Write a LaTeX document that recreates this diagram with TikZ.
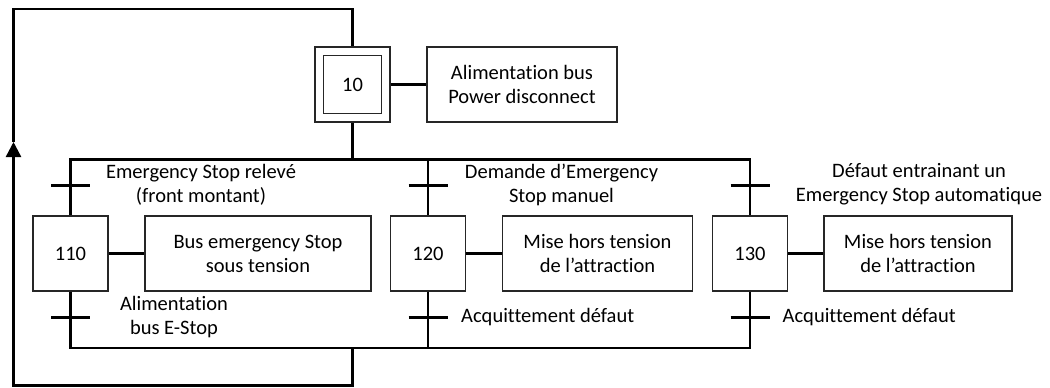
\documentclass[tikz,border=0pt]{standalone}
\usepackage{fontspec}
\setmainfont{Carlito}[Ligatures={NoCommon}]
\usetikzlibrary{arrows.meta}
\begin{document}
\begin{tikzpicture}[x=1pt,y=-1pt,
  txt/.style={font=\fontsize{20.5}{24}\selectfont},
  stepbox/.style={txt, draw=black!85, line width=1.3pt, minimum width=75pt, minimum height=75pt, inner sep=0pt},
  initin/.style={txt, draw=black!85, line width=1.3pt, minimum width=58pt, minimum height=58pt, inner sep=0pt},
  actbox/.style={txt, draw=black!85, line width=1.3pt, minimum height=75pt, inner sep=0pt, align=center},
  wire/.style={line width=2.4pt, black, line join=miter},
  link/.style={line width=3.2pt, black},
  tick/.style={line width=2.2pt, black},
  lbl/.style={txt, align=center, inner sep=0pt}
]
\useasboundingbox (0,0) rectangle (1050,388);

% steps and actions
\node[stepbox] (s10) at (352.5,84.5) {};
\node[initin] (s10i) at (s10) {10};
\node[actbox, minimum width=190pt] (a10) at (522,84.5) {Alimentation bus\\Power disconnect};

\node[stepbox] (s110) at (70.5,253.5) {110};
\node[actbox, minimum width=226pt] (a110) at (258,253.5) {Bus emergency Stop\\sous tension};
\node[stepbox] (s120) at (428,253.5) {120};
\node[actbox, minimum width=190pt] (a120) at (597.5,253.5) {Mise hors tension\\de l’attraction};
\node[stepbox] (s130) at (750,253.5) {130};
\node[actbox, minimum width=188pt] (a130) at (918,253.5) {Mise hors tension\\de l’attraction};

\draw[link] (s10.east) -- (a10.west);
\draw[link] (s110.east) -- (a110.west);
\draw[link] (s120.east) -- (a120.west);
\draw[link] (s130.east) -- (a130.west);

% coordinates
\coordinate (divL) at (70.5,159.5);
\coordinate (divM) at (428,159.5);
\coordinate (divR) at (750,159.5);
\coordinate (div10) at (352.5,159.5);
\coordinate (convL) at (70.5,348);
\coordinate (convM) at (428,348);
\coordinate (convR) at (750,348);
\coordinate (conv10) at (352.5,348);
\coordinate (bot) at (352.5,385.5);
\coordinate (botL) at (13.5,385.5);
\coordinate (arr) at (13.5,142);
\coordinate (topL) at (13.5,9);
\coordinate (top) at (352.5,9);

% wires
\draw[wire] (s10.south) -- (div10);
\draw[wire] (s110.north) -- (divL) -- (divR) -- (s130.north);
\draw[wire] (divM) -- (s120.north);
\draw[wire] (s110.south) -- (convL) -- (convR) -- (s130.south);
\draw[wire] (s120.south) -- (convM);
\draw[wire] (conv10) -- (bot) -- (botL) -- ([yshift=-10pt]arr);
\draw[wire, -{Triangle[length=15pt,width=15pt]}] (botL) -- (arr);
\draw[wire] (arr) -- (topL) -- (top) -- (s10.north);

% transitions
\foreach \n/\x/\y in {t1/70.5/185.5, t2/428/185.5, t3/750/185.5, t4/70.5/317.5, t5/428/317.5, t6/750/317.5}{
  \coordinate (\n) at (\x,\y);
  \draw[tick] ([xshift=-19.5pt]\n) -- ([xshift=19.5pt]\n);
}

% labels
\node[lbl] (l1) at (201,185) {Emergency Stop relevé\\(front montant)};
\node[lbl] (l2) at (561.5,185) {Demande d’Emergency\\Stop manuel};
\node[lbl] (l3) at (919,184) {Défaut entrainant un\\Emergency Stop automatique};
\node[lbl] (l4) at (174,317) {Alimentation\\bus E-Stop};
\node[lbl, anchor=west] (l5) at (461,317.5) {Acquittement défaut};
\node[lbl, anchor=west] (l6) at (782.5,317.5) {Acquittement défaut};
\end{tikzpicture}
\end{document}
